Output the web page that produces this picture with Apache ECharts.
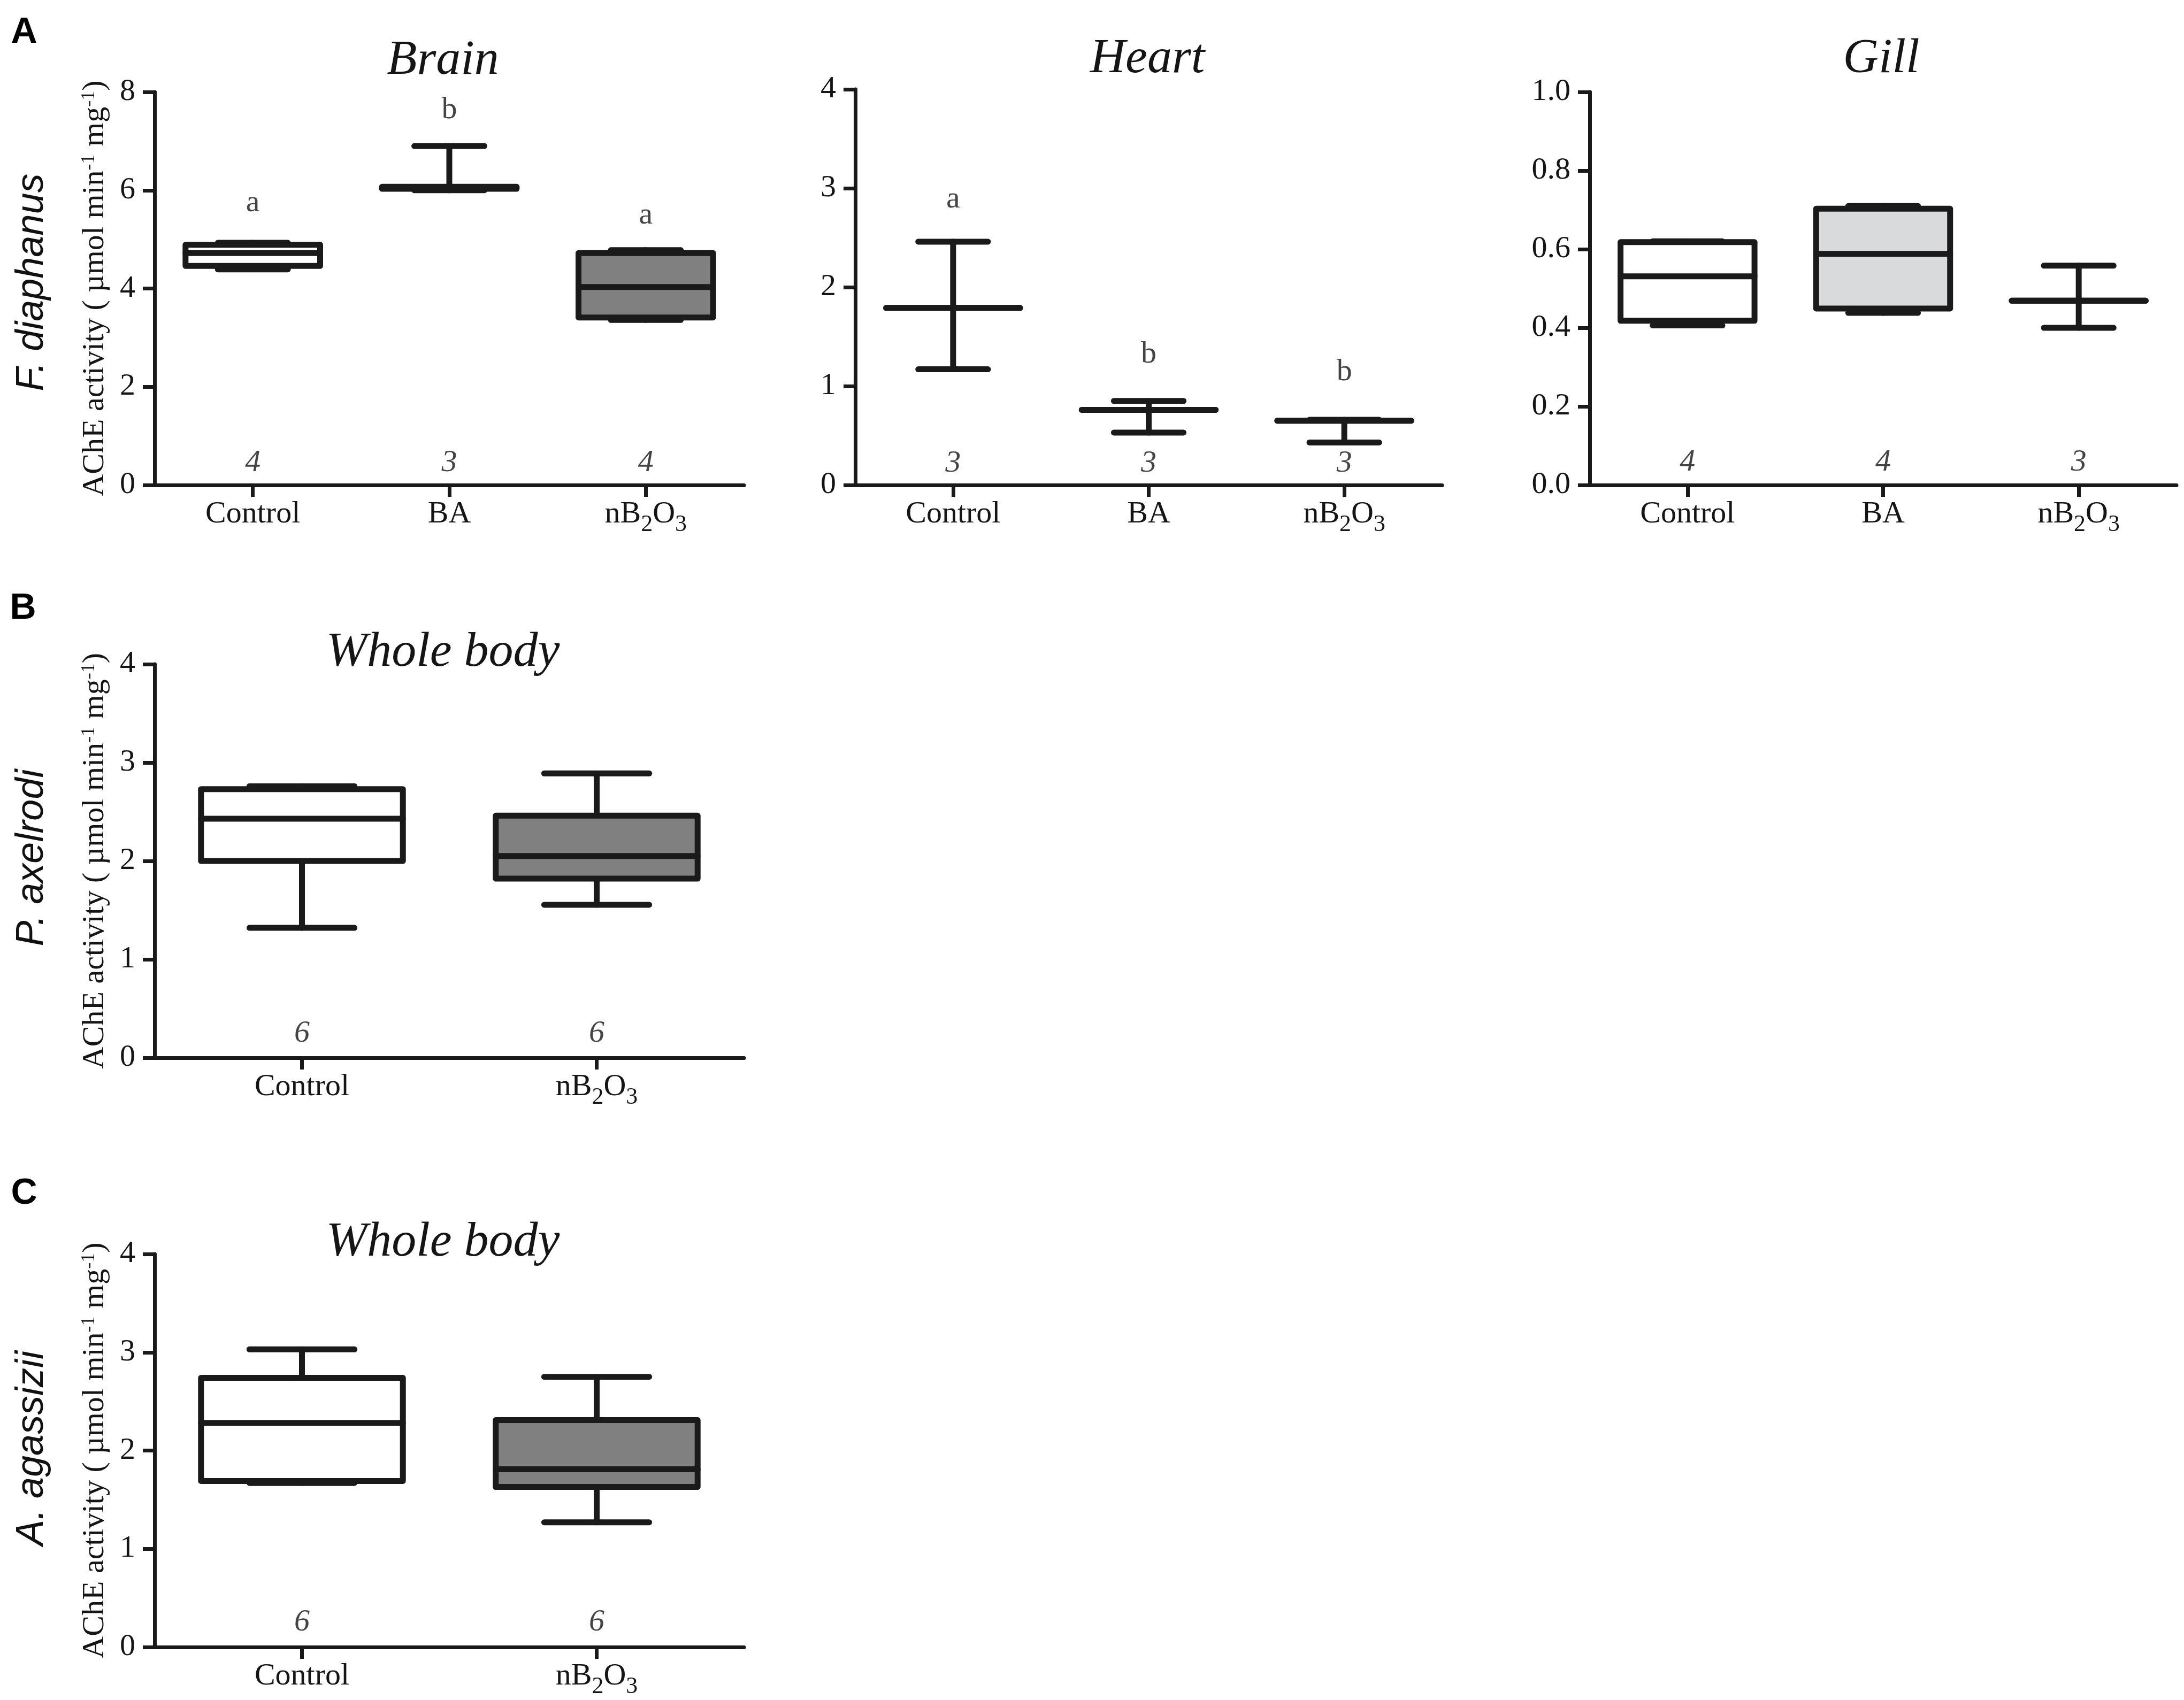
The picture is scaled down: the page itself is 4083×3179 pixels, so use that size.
<!DOCTYPE html>
<html>
<head>
<meta charset="utf-8">
<script src="https://cdn.jsdelivr.net/npm/echarts@6/dist/echarts.min.js"></script>
<style>
html,body{margin:0;padding:0;background:#fff;}
#c{width:4083px;height:3179px;}
</style>
</head>
<body>
<div id="c"></div>
<script>
// ---------------- DATA ----------------
const catsA = ['Control', 'BA', 'nB2O3'];
const catsBC = ['Control', 'nB2O3'];

// [min, q1, median, q3, max]
const brainStats = [[4.39, 4.46, 4.72, 4.89, 4.93], [6.00, 6.03, 6.05, 6.07, 6.90], [3.36, 3.41, 4.03, 4.72, 4.78]];
const heartStats = [[1.17, 1.79, 1.79, 1.79, 2.46], [0.53, 0.76, 0.76, 0.76, 0.85], [0.43, 0.65, 0.65, 0.65, 0.66]];
const gillStats  = [[0.406, 0.418, 0.531, 0.618, 0.620], [0.438, 0.449, 0.588, 0.703, 0.710], [0.400, 0.469, 0.469, 0.469, 0.558]];
const paxStats   = [[1.32, 2.00, 2.43, 2.73, 2.76], [1.555, 1.82, 2.05, 2.46, 2.89]];
const aagStats   = [[1.67, 1.69, 2.28, 2.74, 3.03], [1.27, 1.63, 1.81, 2.31, 2.75]];

const brainN = [4, 3, 4];
const heartN = [3, 3, 3];
const gillN  = [4, 4, 3];
const paxN   = [6, 6];
const aagN   = [6, 6];

// value (axis units) at which the n labels sit
const brainNY = 0.45, heartNY = 0.22, gillNY = 0.057, paxNY = 0.245, aagNY = 0.25;

const brainLetters = ['a', 'b', 'a'];
const brainLetterY = [5.74, 7.63, 5.49];
const heartLetters = ['a', 'b', 'b'];
const heartLetterY = [2.89, 1.32, 1.14];

const brainFill = ['#ffffff', '#ffffff', '#808080'];
const heartFill = ['#ffffff', '#ffffff', '#ffffff'];
const gillFill  = ['#ffffff', '#d9dadb', '#ffffff'];
const paxFill   = ['#ffffff', '#808080'];
const aagFill   = ['#ffffff', '#808080'];

const yTicksBrain = {min: 0, max: 8, interval: 2};
const yTicksHeart = {min: 0, max: 4, interval: 1};
const yTicksGill  = {min: 0, max: 1, interval: 0.2};
const yTicksWhole = {min: 0, max: 4, interval: 1};

// ---------------- STYLE ----------------
const INK = '#1a1a1a';
const TXT = '#151515';
const SERIF = 'Liberation Serif';
const SANS = 'Liberation Sans';
const FS = 58;

const grids = [
  {left: 289, top: 172, width: 1102, height: 735},   // Brain
  {left: 1599, top: 167, width: 1097, height: 740},  // Heart
  {left: 2972, top: 172, width: 1097, height: 735},  // Gill
  {left: 289, top: 1242, width: 1102, height: 736},  // B
  {left: 289, top: 2345, width: 1102, height: 735}   // C
];

function catFmt(v) {
  if (v === 'nB2O3') return '{m|nB}{s|2}{m|O}{s|3}';
  return '{m|' + v + '}';
}

function xAx(gi, cats) {
  return {
    type: 'category', gridIndex: gi, data: cats, boundaryGap: true,
    axisLine: {show: true, lineStyle: {color: INK, width: 7}},
    axisTick: {show: true, alignWithLabel: true, length: 22, lineStyle: {color: INK, width: 7}},
    axisLabel: {
      interval: 0, margin: 26, formatter: catFmt, color: TXT,
      fontFamily: SERIF, fontSize: FS,
      rich: {
        m: {fontFamily: SERIF, fontSize: FS, color: TXT, verticalAlign: 'top'},
        s: {fontFamily: SERIF, fontSize: 44, color: TXT, verticalAlign: 'top', padding: [26, 0, 0, 0]}
      }
    },
    splitLine: {show: false}
  };
}

const yName = '{m|AChE activity ( µmol min}{u|-1}{m| mg}{u|-1}{m|)}';

function yAx(gi, t, fmt, withName) {
  const ax = {
    type: 'value', gridIndex: gi, min: t.min, max: t.max, interval: t.interval,
    axisLine: {show: true, lineStyle: {color: INK, width: 7}},
    axisTick: {show: true, length: 22, lineStyle: {color: INK, width: 7}},
    axisLabel: {margin: 36, color: TXT, fontFamily: SERIF, fontSize: FS, formatter: fmt},
    splitLine: {show: false}
  };
  if (withName) {
    Object.assign(ax, {
      name: yName, nameLocation: 'middle', nameGap: 82, nameRotate: 90,
      nameTextStyle: {
        color: TXT, fontFamily: SERIF, fontSize: FS,
        rich: {
          m: {fontFamily: SERIF, fontSize: FS, color: TXT, verticalAlign: 'top'},
          u: {fontFamily: SERIF, fontSize: 36, color: TXT, verticalAlign: 'top'}
        }
      }
    });
  }
  return ax;
}

function boxSeries(gi, stats, fills) {
  return {
    type: 'custom', xAxisIndex: gi, yAxisIndex: gi, silent: true, animation: false,
    data: stats.map((s, i) => [i, s[0], s[1], s[2], s[3], s[4]]),
    renderItem: function (params, api) {
      const x = api.value(0);
      const pMin = api.coord([x, api.value(1)]);
      const pQ1 = api.coord([x, api.value(2)]);
      const pMed = api.coord([x, api.value(3)]);
      const pQ3 = api.coord([x, api.value(4)]);
      const pMax = api.coord([x, api.value(5)]);
      const band = api.size([1, 0])[0];
      const bw = band * 0.685;
      const cw = bw * 0.52;
      const cx = pQ1[0];
      const ls = {stroke: INK, lineWidth: 11, lineCap: 'round'};
      return {
        type: 'group',
        children: [
          {type: 'line', shape: {x1: cx, y1: pQ3[1], x2: cx, y2: pMax[1]}, style: ls},
          {type: 'line', shape: {x1: cx, y1: pQ1[1], x2: cx, y2: pMin[1]}, style: ls},
          {type: 'line', shape: {x1: cx - cw / 2, y1: pMax[1], x2: cx + cw / 2, y2: pMax[1]}, style: ls},
          {type: 'line', shape: {x1: cx - cw / 2, y1: pMin[1], x2: cx + cw / 2, y2: pMin[1]}, style: ls},
          {type: 'rect', shape: {x: cx - bw / 2, y: pQ3[1], width: bw, height: pQ1[1] - pQ3[1]},
            style: {fill: fills[params.dataIndex], stroke: INK, lineWidth: 11, lineJoin: 'round'}},
          {type: 'line', shape: {x1: cx - bw / 2, y1: pMed[1], x2: cx + bw / 2, y2: pMed[1]},
            style: {stroke: INK, lineWidth: 11, lineCap: 'round'}}
        ]
      };
    }
  };
}

function textSeries(gi, pts, italic) {
  return {
    type: 'scatter', xAxisIndex: gi, yAxisIndex: gi, silent: true, animation: false,
    symbolSize: 0.1, itemStyle: {color: 'transparent'},
    data: pts,
    label: {
      show: true, position: 'inside', color: TXT, fontFamily: SERIF, fontSize: FS,
      fontStyle: italic ? 'italic' : 'normal',
      formatter: p => String(p.data[2])
    },
    z: 5
  };
}

function nPts(ns, y) { return ns.map((n, i) => [i, y, n]); }
function letterPts(ls, ys) { return ls.map((l, i) => [i, ys[i], l]); }

const intFmt = v => String(Math.round(v));
const decFmt = v => v.toFixed(1);

function titleText(txt, x, y) {
  return {type: 'text', x: x, y: y, silent: true,
    style: {text: txt, fill: TXT, font: 'italic 92px "Liberation Serif"', align: 'center', verticalAlign: 'middle'}};
}
function speciesText(txt, x, y) {
  return {type: 'text', x: x, y: y, rotation: Math.PI / 2, silent: true,
    style: {text: txt, fill: '#111', font: 'italic 72px "Liberation Sans"', align: 'center', verticalAlign: 'middle'}};
}
function panelLetter(txt, x, y) {
  return {type: 'text', x: x, y: y, silent: true,
    style: {text: txt, fill: '#000', font: 'bold 68px "Liberation Sans"', align: 'center', verticalAlign: 'middle'}};
}

const chart = echarts.init(document.getElementById('c'), null, {renderer: 'canvas'});
chart.setOption({
  backgroundColor: '#ffffff',
  animation: false,
  textStyle: {fontFamily: SERIF, color: TXT},
  grid: grids,
  xAxis: [xAx(0, catsA), xAx(1, catsA), xAx(2, catsA), xAx(3, catsBC), xAx(4, catsBC)],
  yAxis: [
    yAx(0, yTicksBrain, intFmt, true),
    yAx(1, yTicksHeart, intFmt, false),
    yAx(2, yTicksGill, decFmt, false),
    yAx(3, yTicksWhole, intFmt, true),
    yAx(4, yTicksWhole, intFmt, true)
  ],
  series: [
    boxSeries(0, brainStats, brainFill),
    boxSeries(1, heartStats, heartFill),
    boxSeries(2, gillStats, gillFill),
    boxSeries(3, paxStats, paxFill),
    boxSeries(4, aagStats, aagFill),
    textSeries(0, letterPts(brainLetters, brainLetterY), false),
    textSeries(1, letterPts(heartLetters, heartLetterY), false),
    textSeries(0, nPts(brainN, brainNY), true),
    textSeries(1, nPts(heartN, heartNY), true),
    textSeries(2, nPts(gillN, gillNY), true),
    textSeries(3, nPts(paxN, paxNY), true),
    textSeries(4, nPts(aagN, aagNY), true)
  ],
  graphic: [
    titleText('Brain', 828, 114),
    titleText('Heart', 2145, 111),
    titleText('Gill', 3517, 111),
    titleText('Whole body', 828, 1221),
    titleText('Whole body', 828, 2324),
    speciesText('F. diaphanus', 60, 528),
    speciesText('P. axelrodi', 60, 1604),
    speciesText('A. agassizii', 60, 2708),
    panelLetter('A', 45, 61),
    panelLetter('B', 43, 1138),
    panelLetter('C', 45, 2232)
  ]
});
</script>
</body>
</html>
